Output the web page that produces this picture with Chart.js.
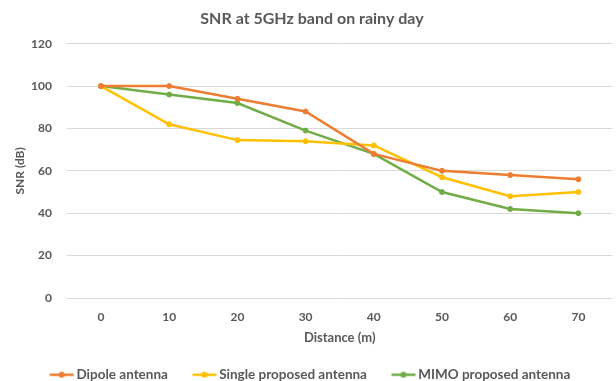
<!DOCTYPE html>
<html>
<head>
<meta charset="utf-8">
<script src="https://cdn.jsdelivr.net/npm/chart.js@4/dist/chart.umd.min.js"></script>
<style>
  html, body { margin: 0; padding: 0; background: #ffffff; }
  #wrap { width: 616px; height: 381px; position: relative; }
</style>
</head>
<body>
<div id="wrap"><canvas id="snr"></canvas></div>
<script>
// Distance from access point (m)
const distances = ['0', '10', '20', '30', '40', '50', '60', '70'];

// SNR (dB) per antenna type
const dipoleSNR = [100, 100, 94, 88, 68, 60, 58, 56];
const singleSNR = [100, 82, 74.5, 74, 72, 57, 48, 50];
const mimoSNR   = [100, 96, 92, 79, 68, 50, 42, 40];

const seriesNames = ['Dipole antenna', 'Single proposed antenna', 'MIMO proposed antenna'];
const seriesColors = ['#ED7D31', '#FFC000', '#70AD47'];

const textColor = '#595959';
const fontFamily = "Lato, 'Open Sans', sans-serif";

// Legend marker: short line with a dot in the middle
function legendMarker(color) {
  const c = document.createElement('canvas');
  c.width = 26; c.height = 10;
  const g = c.getContext('2d');
  g.strokeStyle = color;
  g.lineWidth = 2.5;
  g.beginPath(); g.moveTo(1, 5); g.lineTo(25, 5); g.stroke();
  g.fillStyle = color;
  g.beginPath(); g.arc(13, 5, 3, 0, Math.PI * 2); g.fill();
  return c;
}

const seriesData = [dipoleSNR, singleSNR, mimoSNR];
const datasets = seriesData.map((vals, i) => ({
  label: seriesNames[i],
  data: vals,
  borderColor: seriesColors[i],
  backgroundColor: seriesColors[i],
  borderWidth: 2.5,
  pointRadius: 2.5,
  pointBorderWidth: 1,
  pointHoverRadius: 2.5,
  pointStyle: 'circle',
  tension: 0,
  fill: false
}));

const markers = seriesColors.map(legendMarker);

new Chart(document.getElementById('snr'), {
  type: 'line',
  data: { labels: distances, datasets },
  options: {
    responsive: true,
    maintainAspectRatio: false,
    animation: false,
    layout: { padding: { left: 10, right: 2, top: 7, bottom: -10.5 } },
    plugins: {
      title: {
        display: true,
        text: 'SNR at 5GHz band on rainy day',
        color: textColor,
        font: { family: fontFamily, size: 16, weight: 'bold' },
        padding: { top: 2, bottom: 15.5 }
      },
      legend: {
        position: 'bottom',
        labels: {
          color: textColor,
          font: { family: fontFamily, size: 13.5, weight: 'bold' },
          usePointStyle: true,
          pointStyleWidth: 16,
          boxHeight: 10,
          padding: 28.5,
          generateLabels: (chart) => chart.data.datasets.map((ds, i) => ({
            text: ds.label,
            fillStyle: ds.borderColor,
            strokeStyle: ds.borderColor,
            pointStyle: markers[i],
            fontColor: textColor,
            lineWidth: 0,
            datasetIndex: i,
            hidden: false
          }))
        }
      },
      tooltip: { enabled: false }
    },
    scales: {
      x: {
        offset: true,
        grid: { display: false, drawTicks: false },
        border: { display: false },
        ticks: {
          color: textColor,
          font: { family: fontFamily, size: 12, weight: 'bold' },
          padding: 12
        },
        title: {
          display: true,
          text: 'Distance (m)',
          color: textColor,
          font: { family: fontFamily, size: 13, weight: 'bold' },
          padding: { top: -6.2, bottom: -6.3 }
        }
      },
      y: {
        min: 0,
        max: 120,
        grid: { color: '#D9D9D9', lineWidth: 1, drawTicks: false },
        border: { display: false },
        ticks: {
          stepSize: 20,
          color: textColor,
          font: { family: fontFamily, size: 12, weight: 'bold' },
          padding: 15
        },
        title: {
          display: true,
          text: 'SNR (dB)',
          color: textColor,
          font: { family: fontFamily, size: 12, weight: 'bold' },
          padding: { top: 2.8, bottom: -11.2 }
        }
      }
    }
  }
});
</script>
</body>
</html>
